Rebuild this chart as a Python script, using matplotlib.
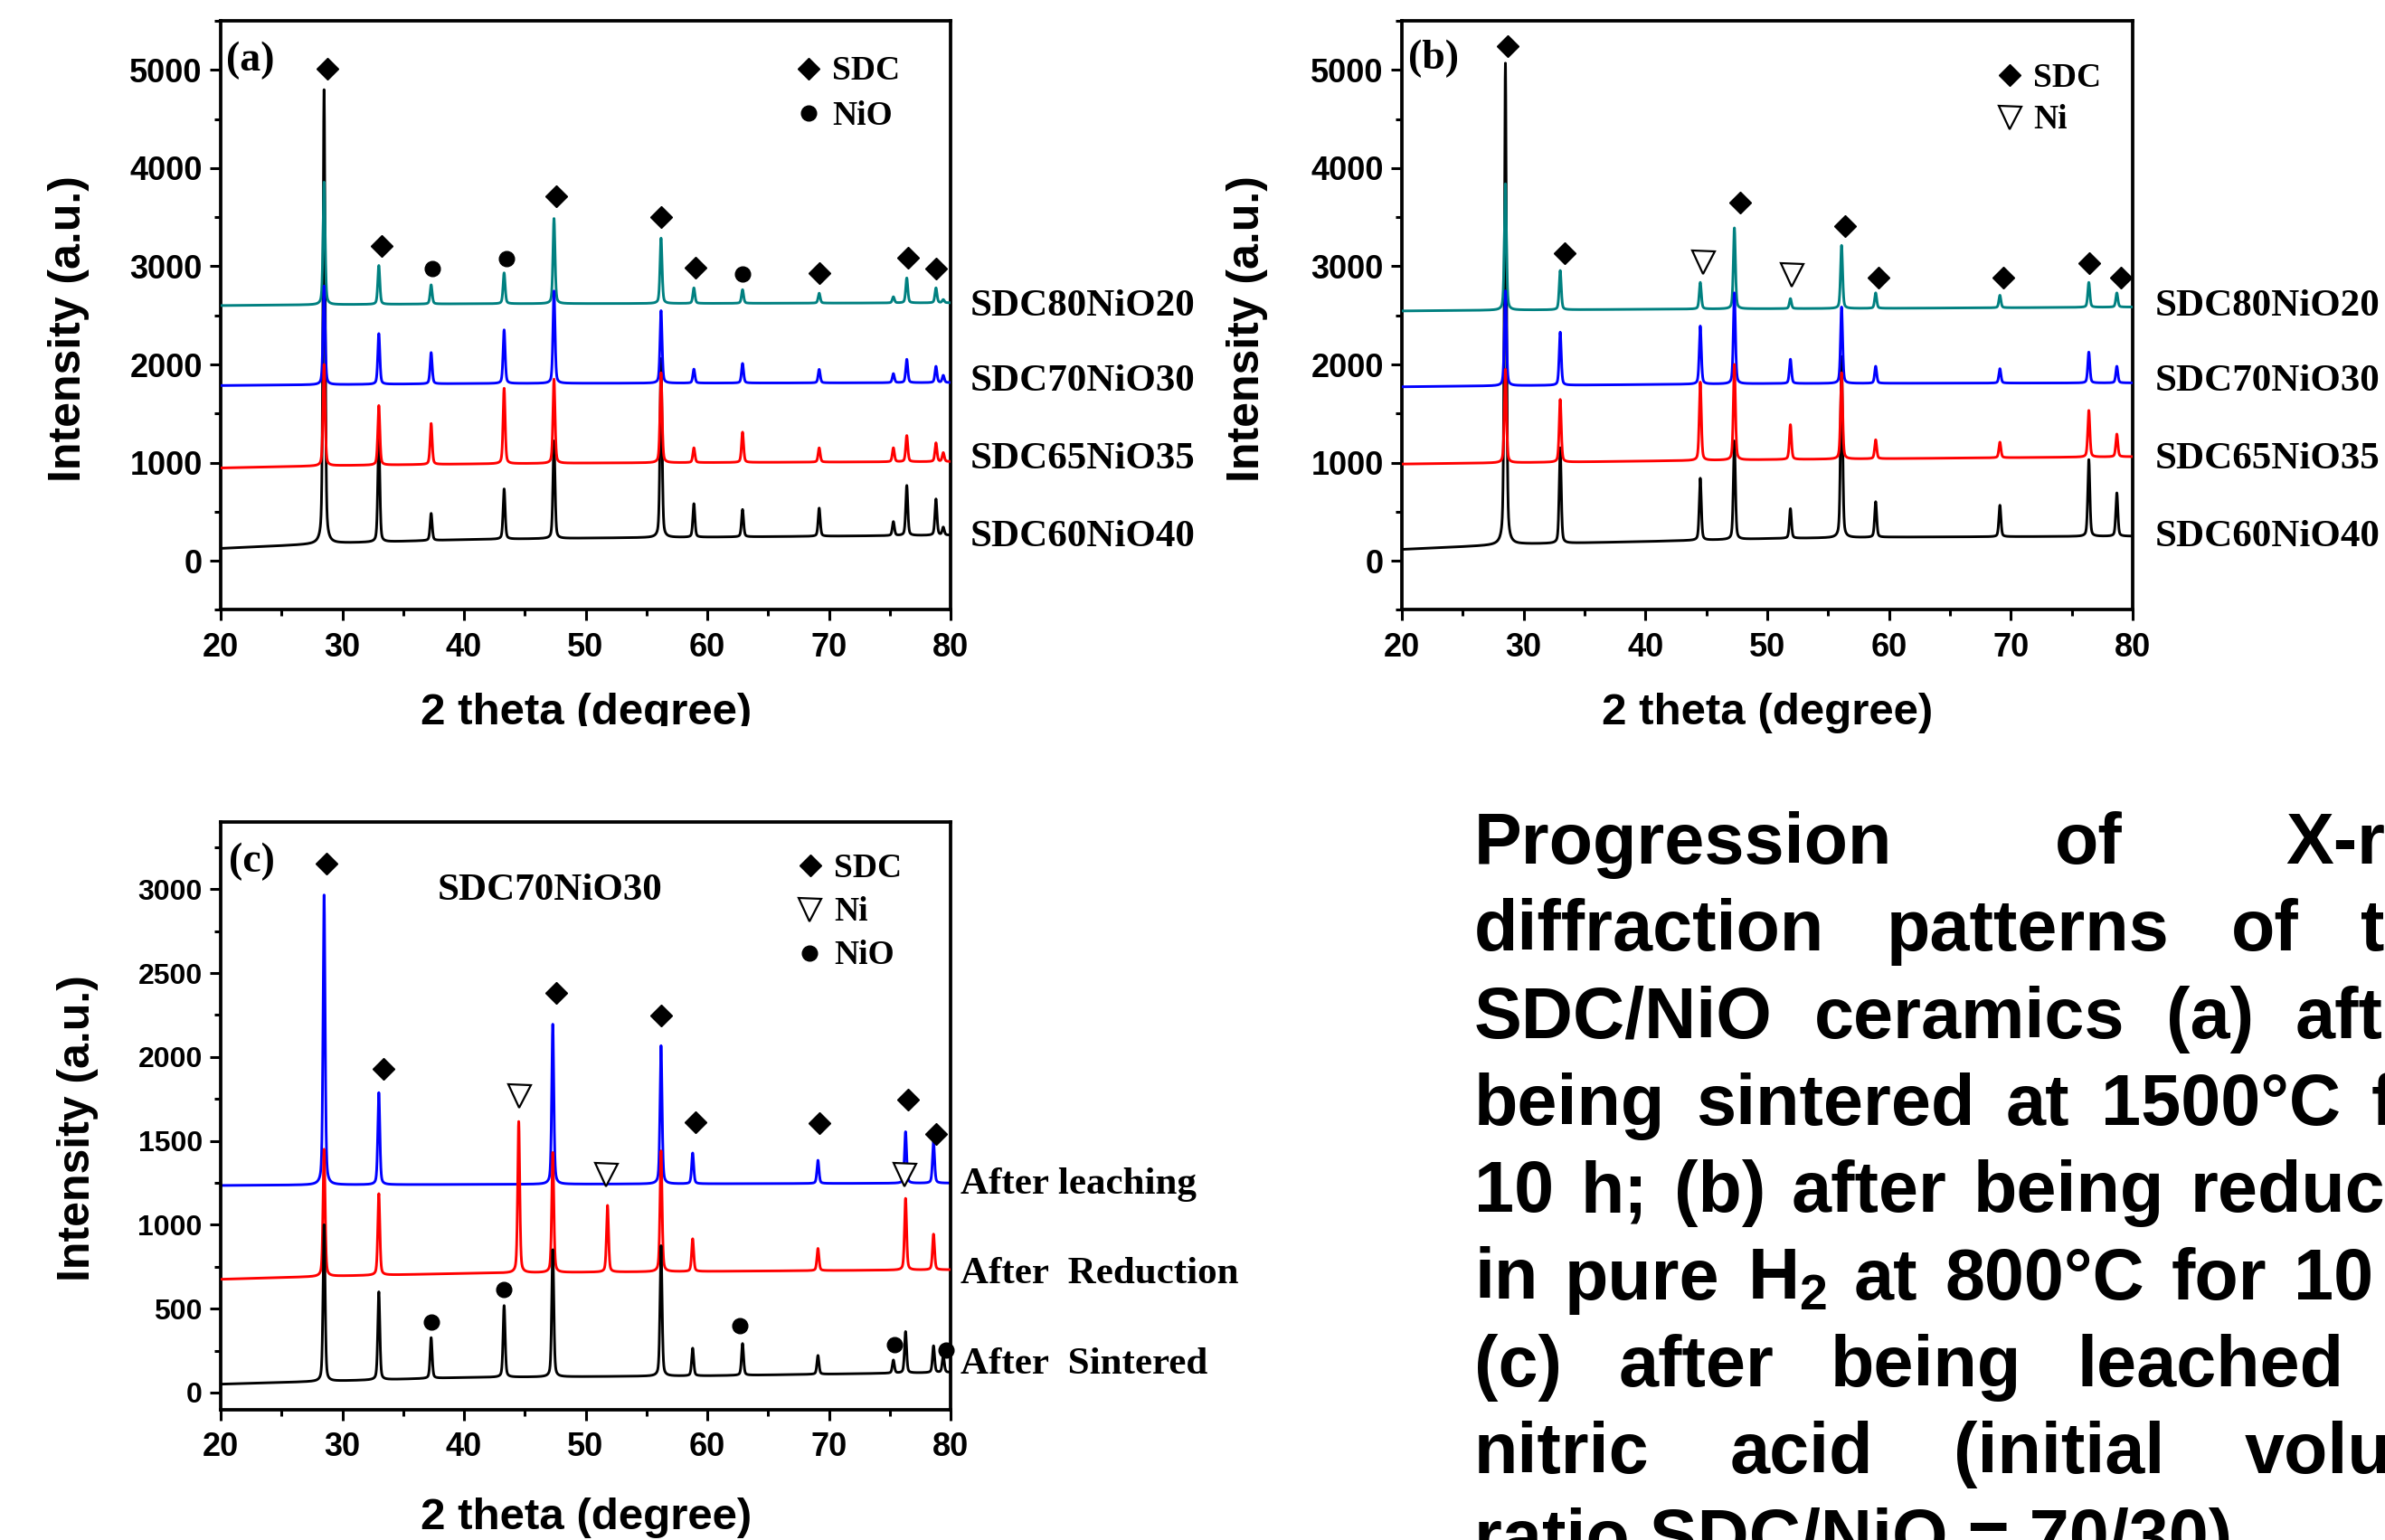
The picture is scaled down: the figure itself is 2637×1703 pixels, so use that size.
import numpy as np
import matplotlib
matplotlib.use("Agg")
import matplotlib.pyplot as plt
from matplotlib.ticker import MultipleLocator
from matplotlib.lines import Line2D
from matplotlib.transforms import Bbox

# ---------------------------------------------------------------- fonts
SANS = ["Liberation Sans", "DejaVu Sans"]
SERIF = ["Liberation Serif", "DejaVu Serif"]
plt.rcParams["font.family"] = SANS
plt.rcParams["font.weight"] = "bold"
plt.rcParams["mathtext.fontset"] = "custom"
plt.rcParams["mathtext.rm"] = "Liberation Sans:bold"
plt.rcParams["mathtext.bf"] = "Liberation Sans:bold"
plt.rcParams["mathtext.it"] = "Liberation Sans:bold:italic"

# ---------------------------------------------------------------- data
# 2-theta anchors for the slowly varying background of each pattern
BASE_TT = [20, 30, 40, 50, 60, 70, 80]

# (a) as sintered: peak positions and apex intensities
A_POS = [28.5, 33.0, 37.3, 43.3, 47.4, 56.2, 58.9, 62.9, 69.2, 75.3, 76.4, 78.8, 79.4]
A_SDC60_TOP = [4800, 1250, 482, 731, 1220, 2060, 580, 522, 536, 397, 766, 628, 339]
A_SDC65_TOP = [2000, 1581, 1398, 1757, 1850, 1915, 1150, 1310, 1150, 1150, 1275, 1200, 1100]
A_SDC70_TOP = [2800, 2314, 2121, 2352, 2748, 2548, 1952, 2010, 1950, 1906, 2052, 1980, 1888]
A_SDC80_TOP = [3858, 3008, 2811, 2933, 3487, 3287, 2780, 2762, 2726, 2689, 2881, 2780, 2660]
A_SDC60_BASE = [125, 180, 215, 230, 240, 250, 260]
A_SDC65_BASE = [945, 970, 985, 995, 1000, 1005, 1010]
A_SDC70_BASE = [1785, 1795, 1805, 1808, 1810, 1812, 1815]
A_SDC80_BASE = [2600, 2610, 2618, 2620, 2622, 2625, 2628]

# (b) after reduction in H2
B_POS = [28.5, 33.0, 44.5, 47.3, 51.9, 56.1, 58.9, 69.1, 76.4, 78.7]
B_SDC60_TOP = [5070, 1150, 840, 1220, 530, 2080, 600, 565, 1030, 690]
B_SDC65_TOP = [1950, 1643, 1820, 2000, 1386, 1915, 1232, 1208, 1531, 1290]
B_SDC70_TOP = [2750, 2329, 2391, 2729, 2053, 2585, 1981, 1957, 2126, 1981]
B_SDC80_TOP = [3841, 2957, 2836, 3391, 2671, 3213, 2729, 2705, 2836, 2729]
B_SDC60_BASE = [115, 170, 195, 225, 240, 245, 250]
B_SDC65_BASE = [985, 1000, 1015, 1030, 1040, 1050, 1060]
B_SDC70_BASE = [1772, 1785, 1795, 1805, 1808, 1810, 1812]
B_SDC80_BASE = [2545, 2555, 2562, 2568, 2572, 2578, 2585]

# (c) SDC70NiO30 through the processing steps
C_SINT_POS = [28.5, 33.0, 37.3, 43.3, 47.3, 56.2, 58.8, 62.9, 69.1, 75.3, 76.3, 78.6, 79.4]
C_SINT_TOP = [1000, 600, 327, 518, 851, 875, 264, 292, 221, 193, 363, 278, 221]
C_RED_POS = [28.5, 33.0, 44.5, 47.3, 51.8, 56.2, 58.8, 69.1, 76.3, 78.6]
C_RED_TOP = [1450, 1185, 1615, 1430, 1115, 1440, 916, 859, 1157, 944]
C_LEACH_POS = [28.5, 33.0, 47.3, 56.2, 58.8, 69.1, 76.3, 78.6]
C_LEACH_TOP = [2965, 1787, 2195, 2067, 1427, 1384, 1554, 1497]
C_SINT_BASE = [50, 70, 90, 95, 100, 110, 120]
C_RED_BASE = [675, 695, 710, 717, 722, 727, 732]
C_LEACH_BASE = [1234, 1238, 1240, 1242, 1244, 1246, 1248]

# phase markers (2-theta, intensity)
A_SDC_MK_X = [28.8, 33.2, 47.6, 56.2, 59.0, 69.2, 76.5, 78.8]
A_SDC_MK_Y = [5014, 3206, 3713, 3505, 2989, 2927, 3086, 2980]
A_NIO_MK_X = [37.4, 43.5, 62.9]
A_NIO_MK_Y = [2980, 3076, 2917]

B_SDC_MK_X = [28.66, 33.4, 47.75, 56.35, 59.1, 69.4, 76.4, 79.0]
B_SDC_MK_Y = [5246, 3130, 3647, 3406, 2884, 2884, 3034, 2884]
B_NI_MK_X = [44.7, 52.0]
B_NI_MK_Y = [3043, 2908]

C_SDC_MK_X = [28.7, 33.4, 47.6, 56.2, 59.0, 69.2, 76.5, 78.8]
C_SDC_MK_Y = [3150, 1928, 2382, 2249, 1611, 1605, 1744, 1540]
C_NI_MK_X = [44.5, 51.7, 76.2]
C_NI_MK_Y = [1767, 1299, 1299]
C_NIO_MK_X = [37.3, 43.3, 62.7, 75.4, 79.6]
C_NIO_MK_Y = [420, 613, 397, 286, 255]

SERIES_AB = ["SDC80NiO20", "SDC70NiO30", "SDC65NiO35", "SDC60NiO40"]
SERIES_C = ["After leaching", "After  Reduction", "After  Sintered"]

CAPTION_LINES = [
    "Progression of X-ray",
    "diffraction patterns of the",
    "SDC/NiO ceramics (a) after",
    "being sintered at 1500°C for",
    "10 h; (b) after being reduced",
    "in pure H$_\\mathregular{2}$ at 800°C for 10 h;",
    "(c) after being leached in",
    "nitric acid (initial volume",
    "ratio SDC/NiO = 70/30).",
]

TEAL, BLUE, RED, BLACK = "#008080", "#0000FF", "#FF0000", "#000000"

# ---------------------------------------------------------------- profiles
TT = np.linspace(20, 80, 6001)
FWHM = 0.2
ETA = 0.4


def profile(d):
    g = np.exp(-4 * np.log(2) * (d / FWHM) ** 2)
    lor = 1.0 / (1.0 + 4 * (d / FWHM) ** 2)
    return ETA * lor + (1 - ETA) * g


def pattern(pos, tops, base):
    y = np.interp(TT, BASE_TT, base)
    for p, t in zip(pos, tops):
        y = y + (t - np.interp(p, BASE_TT, base)) * profile(TT - p)
    return y


# ---------------------------------------------------------------- figure
W, H, DPI = 2637, 1703, 100
fig = plt.figure(figsize=(W / DPI, H / DPI), dpi=DPI, facecolor="white")


def fx(x):
    return x / W


def fy(y):
    return 1 - y / H


def axes_px(left, top, right, bottom):
    return fig.add_axes([fx(left), fy(bottom), (right - left) / W, (bottom - top) / H])


def ftext(x, y, s, **kw):
    return fig.text(fx(x), fy(y), s, **kw)


def fmark(x, y, **kw):
    fig.add_artist(Line2D([fx(x)], [fy(y)], transform=fig.transFigure, ls="none", **kw))


def style(ax, ylim, ymaj, ymin, ysize):
    ax.set_xlim(20, 80)
    ax.set_ylim(*ylim)
    ax.xaxis.set_major_locator(MultipleLocator(10))
    ax.xaxis.set_minor_locator(MultipleLocator(5))
    ax.yaxis.set_major_locator(MultipleLocator(ymaj))
    ax.yaxis.set_minor_locator(MultipleLocator(ymin))
    for s in ax.spines.values():
        s.set_linewidth(2.7)
    ax.tick_params(which="both", direction="out", top=False, right=False, width=2.2)
    ax.tick_params(which="major", length=8.5)
    ax.tick_params(which="minor", length=5)
    ax.tick_params(axis="x", labelsize=26, pad=9.5)
    ax.tick_params(axis="y", labelsize=ysize, pad=6)


DIAMOND = dict(marker="D", ms=12, color="k", mec="k")
CIRCLE = dict(marker="o", ms=12, color="k", mec="k")
TRI = dict(marker="v", ms=18, mfc="white", mec="k", mew=1.6)

LW = 2.1

# ---- panel (a)
ax_a = axes_px(244, 23.2, 1051, 674.3)
style(ax_a, (-500, 5500), 1000, 500, 26)
ax_a.plot(TT, pattern(A_POS, A_SDC60_TOP, A_SDC60_BASE), color=BLACK, lw=LW, zorder=2)
ax_a.plot(TT, pattern(A_POS, A_SDC80_TOP, A_SDC80_BASE), color=TEAL, lw=LW, zorder=3)
ax_a.plot(TT, pattern(A_POS, A_SDC70_TOP, A_SDC70_BASE), color=BLUE, lw=LW, zorder=4)
ax_a.plot(TT, pattern(A_POS, A_SDC65_TOP, A_SDC65_BASE), color=RED, lw=LW, zorder=5)
ax_a.plot(A_SDC_MK_X, A_SDC_MK_Y, ls="none", zorder=6, clip_on=False, **DIAMOND)
ax_a.plot(A_NIO_MK_X, A_NIO_MK_Y, ls="none", zorder=6, clip_on=False, **CIRCLE)

# ---- panel (b)
ax_b = axes_px(1550, 23.2, 2358, 674.3)
style(ax_b, (-500, 5500), 1000, 500, 26)
ax_b.plot(TT, pattern(B_POS, B_SDC60_TOP, B_SDC60_BASE), color=BLACK, lw=LW, zorder=2)
ax_b.plot(TT, pattern(B_POS, B_SDC80_TOP, B_SDC80_BASE), color=TEAL, lw=LW, zorder=3)
ax_b.plot(TT, pattern(B_POS, B_SDC70_TOP, B_SDC70_BASE), color=BLUE, lw=LW, zorder=4)
ax_b.plot(TT, pattern(B_POS, B_SDC65_TOP, B_SDC65_BASE), color=RED, lw=LW, zorder=5)
ax_b.plot(B_SDC_MK_X, B_SDC_MK_Y, ls="none", zorder=6, clip_on=False, **DIAMOND)
ax_b.plot(B_NI_MK_X, B_NI_MK_Y, ls="none", zorder=6, clip_on=False, **TRI)

# ---- panel (c)
ax_c = axes_px(244, 909, 1051, 1558.5)
style(ax_c, (-100, 3400), 500, 250, 23)
ax_c.plot(TT, pattern(C_LEACH_POS, C_LEACH_TOP, C_LEACH_BASE), color=BLUE, lw=LW, zorder=2)
ax_c.plot(TT, pattern(C_RED_POS, C_RED_TOP, C_RED_BASE), color=RED, lw=LW, zorder=3)
ax_c.plot(TT, pattern(C_SINT_POS, C_SINT_TOP, C_SINT_BASE), color=BLACK, lw=LW, zorder=4)
ax_c.plot(C_SDC_MK_X, C_SDC_MK_Y, ls="none", zorder=6, clip_on=False, **DIAMOND)
ax_c.plot(C_NI_MK_X, C_NI_MK_Y, ls="none", zorder=6, clip_on=False, **TRI)
ax_c.plot(C_NIO_MK_X, C_NIO_MK_Y, ls="none", zorder=6, clip_on=False, **CIRCLE)

# ---- axis titles
YLAB = dict(rotation=90, ha="center", va="center", fontsize=36)
XLAB = dict(ha="center", va="baseline", fontsize=35.5)
ftext(76, 364, "Intensity (a.u.)", **YLAB)
ftext(1379, 364, "Intensity (a.u.)", **YLAB)
ftext(86, 1248, "Intensity (a.u.)", **YLAB)
xa = ftext(648, 801, "2 theta (degree)", **XLAB)
xa.set_clip_box(Bbox.from_extents(0, H - 803, W, H))
xa.set_clip_on(True)
ftext(1954, 801, "2 theta (degree)", **XLAB)
ftext(648, 1691, "2 theta (degree)", **XLAB)

# ---- serif annotations
SER = dict(family=SERIF, weight="bold", ha="left", va="baseline")
for i, name in enumerate(SERIES_AB):
    yb = [349, 432, 518, 604][i]
    ftext(1073, yb, name, fontsize=31, **SER)
    ftext(2383, yb, name, fontsize=31, **SER)
for name, yb in zip(SERIES_C, [1320, 1419, 1519]):
    ftext(1062, yb, name, fontsize=31, **SER)
ftext(484, 995, "SDC70NiO30", fontsize=31, **SER)

PANEL = dict(family=SERIF, weight="bold", ha="left", va="center", fontsize=33)
ftext(250, 67, "(a)", **PANEL)
ftext(1557, 65, "(b)", **PANEL)
ftext(253, 953, "(c)", **PANEL)

# ---- phase keys
KEY = dict(fontsize=27, **SER)
fmark(894, 76, **DIAMOND)
fmark(894, 125, **CIRCLE)
ftext(920, 88.5, "SDC", **KEY)
ftext(920, 137.5, "NiO", **KEY)

fmark(2222, 83, **DIAMOND)
fmark(2222, 130, **TRI)
ftext(2248, 95.5, "SDC", **KEY)
ftext(2248, 142.5, "Ni", **KEY)

fmark(896, 957, **DIAMOND)
fmark(895, 1006, **TRI)
fmark(895, 1054, **CIRCLE)
ftext(922, 969.5, "SDC", **KEY)
ftext(922, 1018.5, "Ni", **KEY)
ftext(922, 1066.5, "NiO", **KEY)

# ---- justified caption block
# every stretched line starts at CAP_LEFT; the inter-word gap of each line
# is set so that word number k begins at column x_k
CAP_LEFT = 1630
CAP_BASE0, CAP_STEP = 955, 96.3
CAP_SIZE = 57
CAP_ANCHOR = [(2, 2527), (3, 2610), (3, 2538), (4, 2622),
              (5, 2422), (6, 2536), (3, 2297), (3, 2482)]
renderer = fig.canvas.get_renderer()
for i, line in enumerate(CAPTION_LINES):
    yb = CAP_BASE0 + i * CAP_STEP
    if i == len(CAPTION_LINES) - 1:
        ftext(CAP_LEFT, yb, line, fontsize=CAP_SIZE, ha="left", va="baseline")
        continue
    words = line.split(" ")
    arts = [ftext(CAP_LEFT, yb, w, fontsize=CAP_SIZE, ha="left", va="baseline")
            for w in words]
    widths = [a.get_window_extent(renderer).width for a in arts]
    k, xk = CAP_ANCHOR[i]
    gap = (xk - CAP_LEFT - sum(widths[:k])) / k
    x = CAP_LEFT
    for a, w in zip(arts, widths):
        a.set_x(fx(x))
        x += w + gap

fig.savefig("out.png", dpi=DPI, facecolor="white")
